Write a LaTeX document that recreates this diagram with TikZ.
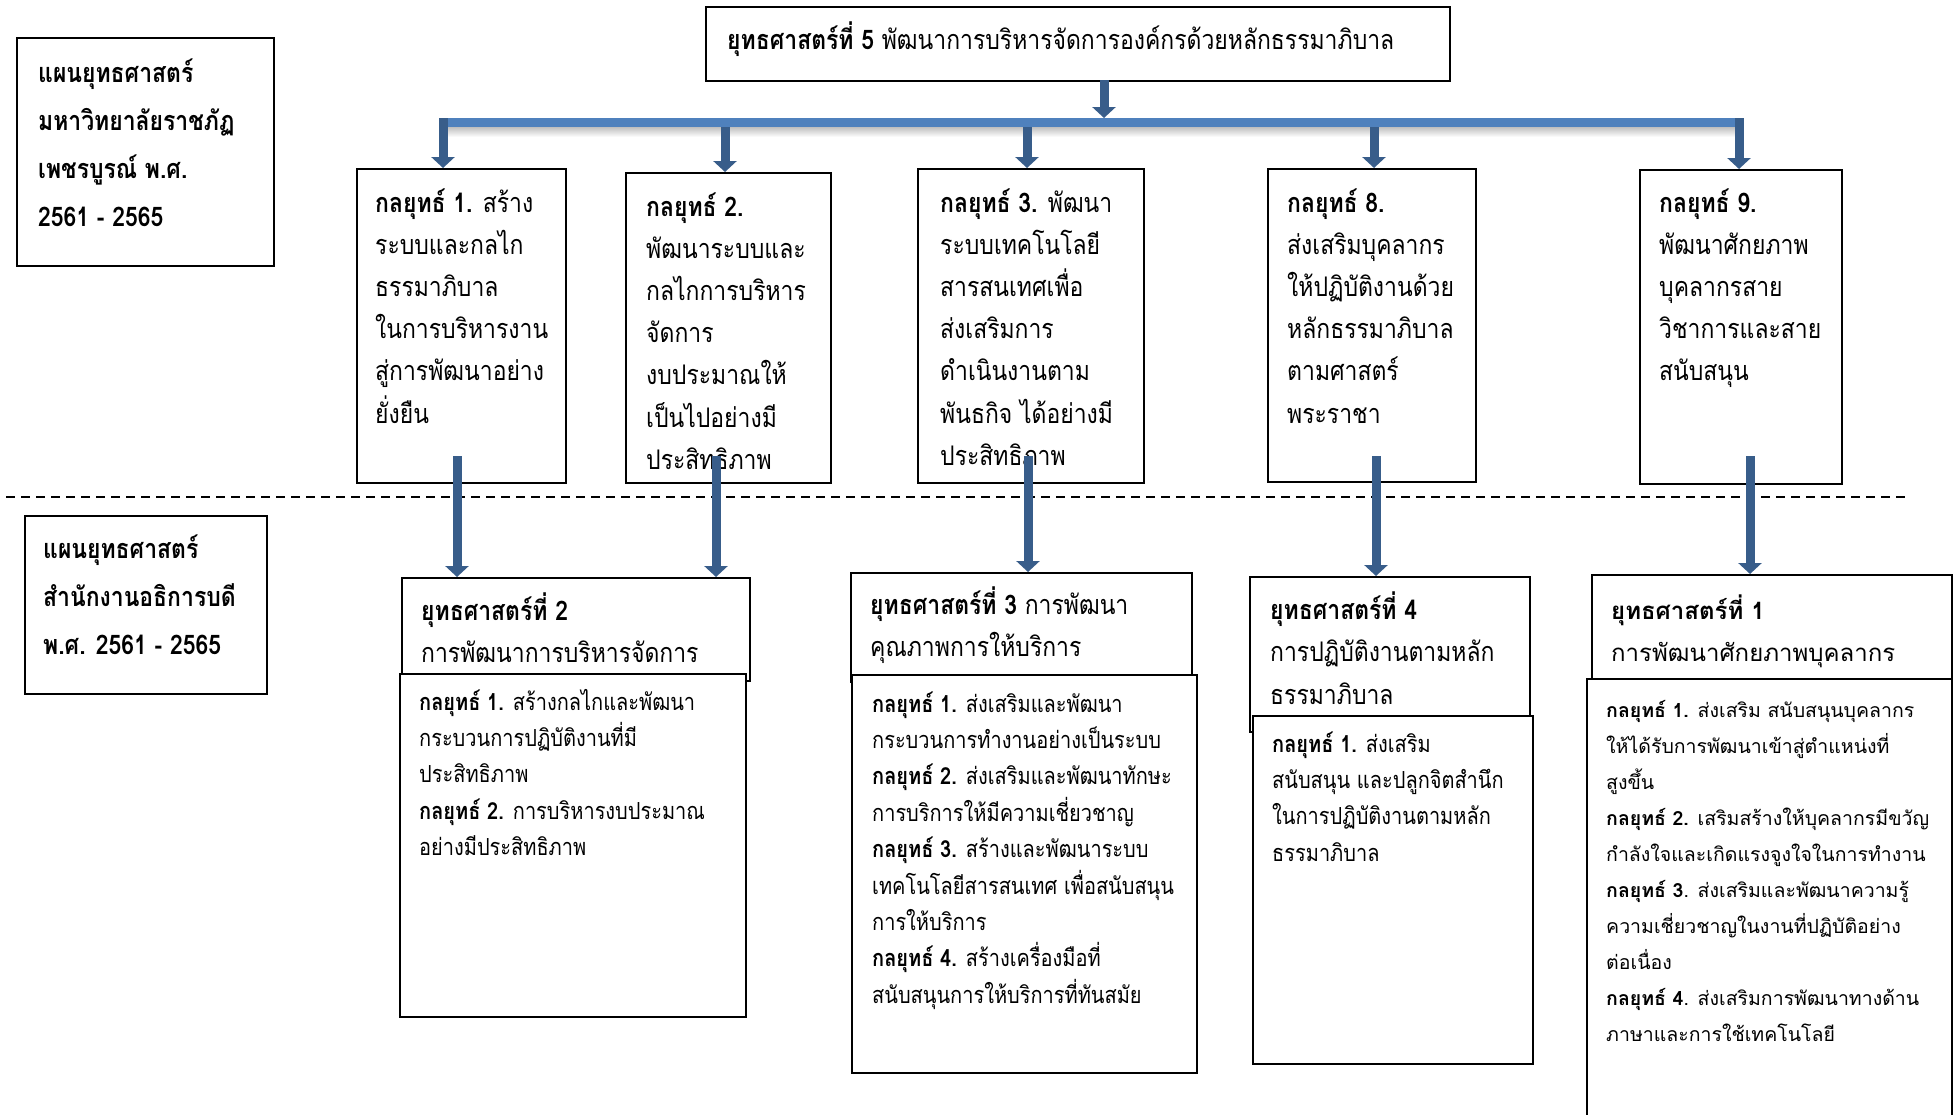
\documentclass[tikz,border=0pt]{standalone}
\usepackage{fontspec}
\setmainfont[Script=Thai, FakeStretch=0.85]{Loma}
\newfontfamily\tahfont[Script=Thai]{Loma}
\usetikzlibrary{arrows.meta}
\definecolor{barblue}{HTML}{4F81BD}
\definecolor{arrblue}{HTML}{385D8A}
\newcommand\szBig{\fontsize{27}{48.3}\selectfont}
\newcommand\szA{\fontsize{27}{42.2}\selectfont}
\newcommand\szH{\fontsize{27}{42.5}\selectfont}
\newcommand\szB{\fontsize{23.5}{36.4}\selectfont}
\newcommand\szTH{\tahfont\fontsize{24}{42}\selectfont}
\newcommand\szTB{\tahfont\fontsize{19.5}{36}\selectfont}
\newcommand\tblock[1]{\parbox[t]{420pt}{\raggedright #1}}
\begin{document}
\begin{tikzpicture}[x=1pt,y=-1pt,
  box/.style={draw=black, line width=1.8pt, anchor=north west, inner sep=0pt, fill=white},
  txt/.style={anchor=base west, inner sep=0pt},
  arr/.style={draw=arrblue, line width=9pt, -{Triangle[width=23pt,length=11pt]}},
  sepline/.style={draw=black, line width=1.6pt, dash pattern=on 9pt off 6pt}]
\path[use as bounding box, fill=white] (0,0) rectangle (1957,1114);

% ---------- top part ----------
\node[box, minimum width=744pt, minimum height=74pt] (top) at (705,6) {};
\node[txt] (ttop) at (727,49) {\szA{\bfseries ยุทธศาสตร์ที่ 5} พัฒนาการบริหารจัดการองค์กรด้วยหลักธรรมาภิบาล};

\node[box, minimum width=257pt, minimum height=228pt] (tl) at (16,37) {};
\node[txt] (ttl) at (38,82) {\tblock{\szBig\bfseries แผนยุทธศาสตร์\\มหาวิทยาลัยราชภัฏ\\เพชรบูรณ์ พ.ศ.\\2561 - 2565}};

% bar
\shade[top color=black!25, bottom color=white] (441,127) rectangle (1742,137);
\node[fill=barblue, inner sep=0pt, minimum width=1301pt, minimum height=9pt, anchor=north west] (bar) at (441,118) {};

% strategy boxes
\node[box, minimum width=209pt, minimum height=314pt] (b1) at (356,168) {};
\node[box, minimum width=205pt, minimum height=310pt] (b2) at (625,172) {};
\node[box, minimum width=226pt, minimum height=314pt] (b3) at (917,168) {};
\node[box, minimum width=208pt, minimum height=313pt] (b4) at (1267,168) {};
\node[box, minimum width=202pt, minimum height=314pt] (b5) at (1639,169) {};

\node[txt] (tb1) at (375,212) {\tblock{\szA{\bfseries กลยุทธ์ 1.} สร้าง\\ระบบและกลไก\\ธรรมาภิบาล\\ในการบริหารงาน\\สู่การพัฒนาอย่าง\\ยั่งยืน}};
\node[txt] (tb2) at (646,216) {\tblock{\szA{\bfseries กลยุทธ์ 2.}\\พัฒนาระบบและ\\กลไกการบริหาร\\จัดการ\\งบประมาณให้\\เป็นไปอย่างมี\\ประสิทธิภาพ}};
\node[txt] (tb3) at (940,212) {\tblock{\szA{\bfseries กลยุทธ์ 3.} พัฒนา\\ระบบเทคโนโลยี\\สารสนเทศเพื่อ\\ส่งเสริมการ\\ดำเนินงานตาม\\พันธกิจ ได้อย่างมี\\ประสิทธิภาพ}};
\node[txt] (tb4) at (1287,212) {\tblock{\szA{\bfseries กลยุทธ์ 8.}\\ส่งเสริมบุคลากร\\ให้ปฏิบัติงานด้วย\\หลักธรรมาภิบาล\\ตามศาสตร์\\พระราชา}};
\node[txt] (tb5) at (1659,212) {\tblock{\szA{\bfseries กลยุทธ์ 9.}\\พัฒนาศักยภาพ\\บุคลากรสาย\\วิชาการและสาย\\สนับสนุน}};

% separator
\draw[sepline] (6,497) -- (1909,497);

% ---------- bottom part ----------
\node[box, minimum width=242pt, minimum height=178pt] (bl) at (24,515) {};
\node[txt] (tbl) at (43,558) {\tblock{\szBig\bfseries แผนยุทธศาสตร์\\สำนักงานอธิการบดี\\พ.ศ. 2561 - 2565}};

% strategy 2
\node[box, minimum width=348pt, minimum height=103pt] (s2h) at (401,577) {};
\node[txt] (ts2h) at (421,620) {\tblock{\szH{\bfseries ยุทธศาสตร์ที่ 2}\\การพัฒนาการบริหารจัดการ}};
\node[box, minimum width=346pt, minimum height=343pt] (s2b) at (399,673) {};
\node[txt] (ts2b) at (419,710) {\tblock{\szB{\bfseries กลยุทธ์ 1.} สร้างกลไกและพัฒนา\\กระบวนการปฏิบัติงานที่มี\\ประสิทธิภาพ\\{\bfseries กลยุทธ์ 2.} การบริหารงบประมาณ\\อย่างมีประสิทธิภาพ}};

% strategy 3
\node[box, minimum width=341pt, minimum height=109pt] (s3h) at (850,572) {};
\node[txt] (ts3h) at (870,614) {\tblock{\szH{\bfseries ยุทธศาสตร์ที่ 3} การพัฒนา\\คุณภาพการให้บริการ}};
\node[box, minimum width=345pt, minimum height=398pt] (s3b) at (851,674) {};
\node[txt] (ts3b) at (872,712) {\tblock{\szB{\bfseries กลยุทธ์ 1.} ส่งเสริมและพัฒนา\\กระบวนการทำงานอย่างเป็นระบบ\\{\bfseries กลยุทธ์ 2.} ส่งเสริมและพัฒนาทักษะ\\การบริการให้มีความเชี่ยวชาญ\\{\bfseries กลยุทธ์ 3.} สร้างและพัฒนาระบบ\\เทคโนโลยีสารสนเทศ เพื่อสนับสนุน\\การให้บริการ\\{\bfseries กลยุทธ์ 4.} สร้างเครื่องมือที่\\สนับสนุนการให้บริการที่ทันสมัย}};

% strategy 4
\node[box, minimum width=280pt, minimum height=155pt] (s4h) at (1249,576) {};
\node[txt] (ts4h) at (1270,619) {\tblock{\szH{\bfseries ยุทธศาสตร์ที่ 4}\\การปฏิบัติงานตามหลัก\\ธรรมาภิบาล}};
\node[box, minimum width=280pt, minimum height=348pt] (s4b) at (1252,715) {};
\node[txt] (ts4b) at (1272,752) {\tblock{\szB{\bfseries กลยุทธ์ 1.} ส่งเสริม\\สนับสนุน และปลูกจิตสำนึก\\ในการปฏิบัติงานตามหลัก\\ธรรมาภิบาล}};

% strategy 1
\node[box, minimum width=360pt, minimum height=116pt] (s1h) at (1591,574) {};
\node[txt] (ts1h) at (1611,619) {\tblock{\szTH{\bfseries ยุทธศาสตร์ที่ 1}\\การพัฒนาศักยภาพบุคลากร}};
\node[box, minimum width=365pt, minimum height=460pt] (s1b) at (1586,678) {};
\node[txt] (ts1b) at (1606,717) {\tblock{\szTB{\bfseries กลยุทธ์ 1.} ส่งเสริม สนับสนุนบุคลากร\\ให้ได้รับการพัฒนาเข้าสู่ตำแหน่งที่\\สูงขึ้น\\{\bfseries กลยุทธ์ 2.} เสริมสร้างให้บุคลากรมีขวัญ\\กำลังใจและเกิดแรงจูงใจในการทำงาน\\{\bfseries กลยุทธ์ 3}. ส่งเสริมและพัฒนาความรู้\\ความเชี่ยวชาญในงานที่ปฏิบัติอย่าง\\ต่อเนื่อง\\{\bfseries กลยุทธ์ 4}. ส่งเสริมการพัฒนาทางด้าน\\ภาษาและการใช้เทคโนโลยี}};

% ---------- connectors ----------
\coordinate (ta) at (1104,80);
\draw[arr] (ta) -- (ta |- bar.north);

\coordinate (u1) at (443,118);
\coordinate (u2) at (725,127);
\coordinate (u3) at (1027,127);
\coordinate (u4) at (1374,127);
\coordinate (u5) at (1739,118);
\draw[arr] (u1) -- (u1 |- b1.north);
\draw[arr] (u2) -- (u2 |- b2.north);
\draw[arr] (u3) -- (u3 |- b3.north);
\draw[arr] (u4) -- (u4 |- b4.north);
\draw[arr] (u5) -- (u5 |- b5.north);

\coordinate (l1) at (457,456);
\coordinate (l2) at (716,456);
\coordinate (l3) at (1028,456);
\coordinate (l4) at (1376,456);
\coordinate (l5) at (1750,456);
\draw[arr] (l1) -- (l1 |- s2h.north);
\draw[arr] (l2) -- (l2 |- s2h.north);
\draw[arr] (l3) -- (l3 |- s3h.north);
\draw[arr] (l4) -- (l4 |- s4h.north);
\draw[arr] (l5) -- (l5 |- s1h.north);
\end{tikzpicture}
\end{document}
